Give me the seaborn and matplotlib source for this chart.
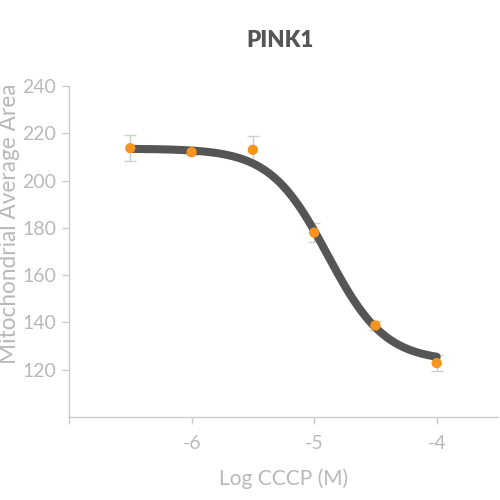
import numpy as np
import pandas as pd
import matplotlib
matplotlib.use("Agg")
import matplotlib.pyplot as plt
import seaborn as sns

# Data
log_conc = [-6.5, -6.0, -5.5, -5.0, -4.5, -4.0]
mean_area = [213.7, 212.0, 213.0, 178.0, 138.7, 122.8]
sem_area = [5.5, 1.2, 6.0, 4.0, 2.0, 3.5]

# Sigmoidal dose-response fit parameters
fit_top = 213.5
fit_bottom = 123.5
fit_log_ec50 = -4.89
fit_hill = 1.85

sns.set_theme(style="white")
plt.rcParams['font.family'] = ['Lato', 'DejaVu Sans']

fig = plt.figure(figsize=(5, 5), dpi=100)
ax = fig.add_axes([0.138, 0.166, 0.858, 0.662])

xs = np.linspace(min(log_conc), max(log_conc), 300)
ys = fit_bottom + (fit_top - fit_bottom) / (1 + 10 ** ((xs - fit_log_ec50) * fit_hill))
curve = pd.DataFrame({"x": xs, "y": ys})
pts = pd.DataFrame({"x": log_conc, "y": mean_area})

sns.lineplot(data=curve, x="x", y="y", ax=ax, color="#555555", linewidth=5.8,
             solid_capstyle="round", zorder=2)
ax.errorbar(log_conc, mean_area, yerr=sem_area, fmt="none", ecolor="#cfcfcf",
            elinewidth=1.0, capsize=4, capthick=1.0, zorder=1)
sns.scatterplot(data=pts, x="x", y="y", ax=ax, color="#f7941d", s=55,
                edgecolor="none", zorder=3)

ax.set_xlim(-7, -3.5)
ax.set_ylim(100, 240)
ax.set_xticks([-7, -6, -5, -4])
ax.set_xticklabels(["", "-6", "-5", "-4"])
ax.set_yticks([120, 140, 160, 180, 200, 220, 240])

grey = "#b9b9b9"
for s in ["top", "right"]:
    ax.spines[s].set_visible(False)
for s in ["left", "bottom"]:
    ax.spines[s].set_color("#cccccc")
    ax.spines[s].set_linewidth(1.0)
ax.tick_params(axis="both", colors="#cccccc", labelcolor=grey, labelsize=14,
               length=5, width=1, direction="out", bottom=True, left=True)
ax.tick_params(axis="x", pad=8)
ax.tick_params(axis="y", pad=4)

ax.set_xlabel("Log CCCP (M)", color=grey, fontsize=15, labelpad=12)
ax.set_ylabel("Mitochondrial Average Area", color=grey, fontsize=16.3, labelpad=2)
ax.yaxis.set_label_coords(-0.115, 0.583)
ax.set_title("PINK1", color="#555555", fontsize=16, fontweight="heavy", pad=28,
             x=0.492)

fig.savefig("out.png", dpi=100)
